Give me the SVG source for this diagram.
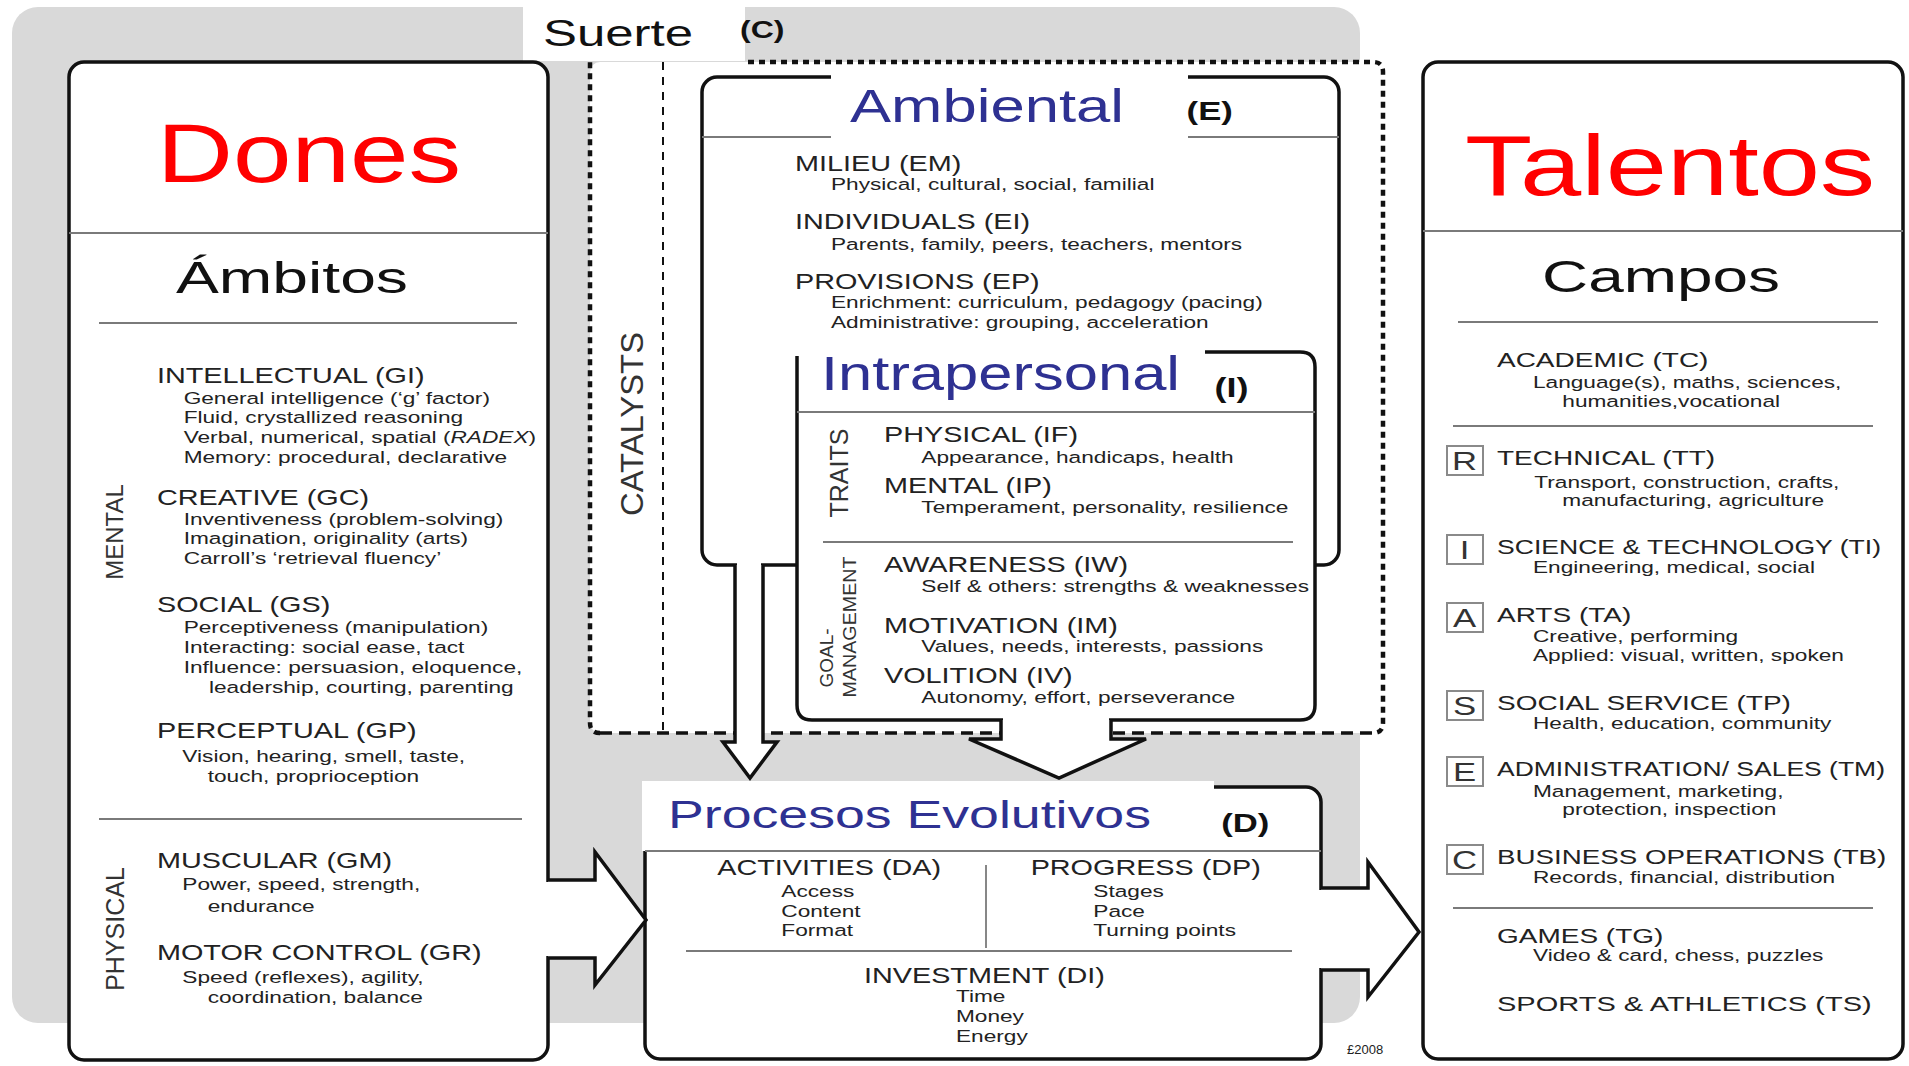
<svg xmlns="http://www.w3.org/2000/svg" width="1909" height="1066" viewBox="0 0 1909 1066">
<defs>
<style>
text{font-family:"Liberation Sans",Arial,Helvetica,sans-serif;fill:#222}
.box{fill:#fff;stroke:#111;stroke-width:3.5}
.sep{stroke:#7a7a7a;stroke-width:1.8;fill:none}
.h{font-size:21.6px}
.s{font-size:17px}
.th{font-size:21px}
.lbl{font-weight:bold;fill:#111}
.red{fill:#ff0000}
.blue{fill:#2e3192}
.big{fill:#111}
.rot{fill:#333;text-anchor:middle}
.arrow{fill:#fff;stroke:#111;stroke-width:3.5;stroke-linejoin:miter}
.cover{fill:#fff}
.dot{fill:none;stroke:#111;stroke-width:4.5;stroke-dasharray:6 5}
.dash{fill:none;stroke:#111;stroke-width:3.5;stroke-dasharray:12 7}
.thin{fill:none;stroke:#111;stroke-width:2;stroke-dasharray:8 7}
.rbox{fill:#fff;stroke:#8a8a8a;stroke-width:2}
.ltr{font-size:26px;text-anchor:middle;fill:#333}
</style>
</defs>
<rect width="1909" height="1066" fill="#fff"/>
<rect x="12" y="7" width="1348" height="1016" rx="26" fill="#d9d9d9"/>

<g id="catalysts">
<rect x="590" y="62" width="793" height="671" rx="10" fill="#fff"/>
<path class="dot" d="M600,733 Q590,733 590,723 V62"/>
<path class="dot" d="M748,62 H1373 Q1383,62 1383,72 V723 Q1383,733 1373,733"/>
<path class="dash" d="M600,733 H1373"/>
<path class="thin" d="M663,62 V733"/>
<text class="rot" font-size="31" textLength="184" lengthAdjust="spacingAndGlyphs" transform="translate(643,424) rotate(-90)">CATALYSTS</text>
</g>

<g id="suerte">
<rect x="523" y="0" width="222" height="61" fill="#fff"/>
<text class="big" x="543" y="46" font-size="37" textLength="150" lengthAdjust="spacingAndGlyphs">Suerte</text>
<g transform="scale(1.3333,1)"><text class="lbl" x="555" y="38" font-size="24">(C)</text></g>
</g>

<g id="dones">
<rect class="box" x="69" y="62" width="479" height="998" rx="15"/>
<line class="sep" x1="69" y1="233" x2="548" y2="233"/>
<line class="sep" x1="99" y1="323" x2="517" y2="323"/>
<line class="sep" x1="99" y1="819" x2="522" y2="819"/>
<text class="red" x="157" y="182" font-size="84" textLength="304" lengthAdjust="spacingAndGlyphs">Dones</text>
<text class="big" x="176" y="293" font-size="44" textLength="232" lengthAdjust="spacingAndGlyphs">Ámbitos</text>
<text class="rot" font-size="24" transform="translate(123,532) rotate(-90)">MENTAL</text>
<text class="rot" font-size="25" transform="translate(124,929) rotate(-90)">PHYSICAL</text>
<g transform="translate(157,0) scale(1.3333,1)">
<text class="h" x="0" y="383">INTELLECTUAL (GI)</text>
<text class="s" x="20" y="404">General intelligence (‘g’ factor)</text>
<text class="s" x="20" y="423">Fluid, crystallized reasoning</text>
<text class="s" x="20" y="443">Verbal, numerical, spatial (<tspan font-style="italic">RADEX</tspan>)</text>
<text class="s" x="20" y="463">Memory: procedural, declarative</text>
<text class="h" x="0" y="505">CREATIVE (GC)</text>
<text class="s" x="20" y="525">Inventiveness (problem-solving)</text>
<text class="s" x="20" y="544">Imagination, originality (arts)</text>
<text class="s" x="20" y="564">Carroll’s ‘retrieval fluency’</text>
<text class="h" x="0" y="612">SOCIAL (GS)</text>
<text class="s" x="20" y="633">Perceptiveness (manipulation)</text>
<text class="s" x="20" y="653">Interacting: social ease, tact</text>
<text class="s" x="20" y="673">Influence: persuasion, eloquence,</text>
<text class="s" x="39" y="693">leadership, courting, parenting</text>
<text class="h" x="0" y="738">PERCEPTUAL (GP)</text>
<text class="s" x="19" y="762">Vision, hearing, smell, taste,</text>
<text class="s" x="38" y="782">touch, proprioception</text>
<text class="h" x="0" y="868">MUSCULAR (GM)</text>
<text class="s" x="19" y="890">Power, speed, strength,</text>
<text class="s" x="38" y="912">endurance</text>
<text class="h" x="0" y="960">MOTOR CONTROL (GR)</text>
<text class="s" x="19" y="983">Speed (reflexes), agility,</text>
<text class="s" x="38" y="1003">coordination, balance</text>
</g>
</g>

<g id="ambiental">
<rect class="box" x="702" y="77" width="637" height="488" rx="15"/>
<line class="sep" x1="702" y1="137" x2="1339" y2="137"/>
<rect class="cover" x="831" y="70" width="357" height="70"/>
<text class="blue" x="850" y="122" font-size="47" textLength="274" lengthAdjust="spacingAndGlyphs">Ambiental</text>
<g transform="scale(1.3333,1)"><text class="lbl" x="890" y="120" font-size="26">(E)</text></g>
<g transform="translate(795,0) scale(1.3333,1)">
<text class="h" x="0" y="171">MILIEU (EM)</text>
<text class="s" x="27" y="190">Physical, cultural, social, familial</text>
<text class="h" x="0" y="229">INDIVIDUALS (EI)</text>
<text class="s" x="27" y="250">Parents, family, peers, teachers, mentors</text>
<text class="h" x="0" y="289">PROVISIONS (EP)</text>
<text class="s" x="27" y="308">Enrichment: curriculum, pedagogy (pacing)</text>
<text class="s" x="27" y="328">Administrative: grouping, acceleration</text>
</g>
</g>

<g id="intrapersonal">
<path class="box" d="M1205,352 H1300 Q1315,352 1315,367 V705 Q1315,720 1300,720 H812 Q797,720 797,705 V356"/>
<line class="sep" x1="797" y1="412" x2="1315" y2="412"/>
<line class="sep" x1="823" y1="542" x2="1293" y2="542"/>
<text class="blue" x="821" y="390" font-size="48" textLength="359" lengthAdjust="spacingAndGlyphs">Intrapersonal</text>
<g transform="scale(1.3333,1)"><text class="lbl" x="911" y="397" font-size="27">(I)</text></g>
<text class="rot" font-size="25" transform="translate(848,473) rotate(-90)">TRAITS</text>
<text class="rot" font-size="19" transform="translate(833,658) rotate(-90)">GOAL-</text>
<text class="rot" font-size="19" textLength="141" lengthAdjust="spacingAndGlyphs" transform="translate(856,627) rotate(-90)">MANAGEMENT</text>
<g transform="translate(884,0) scale(1.3333,1)">
<text class="h" x="0" y="442">PHYSICAL (IF)</text>
<text class="s" x="28" y="463">Appearance, handicaps, health</text>
<text class="h" x="0" y="493">MENTAL (IP)</text>
<text class="s" x="28" y="513">Temperament, personality, resilience</text>
<text class="h" x="0" y="572">AWARENESS (IW)</text>
<text class="s" x="28" y="592" font-size="16.5">Self &amp; others: strengths &amp; weaknesses</text>
<text class="h" x="0" y="633">MOTIVATION (IM)</text>
<text class="s" x="28" y="652">Values, needs, interests, passions</text>
<text class="h" x="0" y="683">VOLITION (IV)</text>
<text class="s" x="28" y="703">Autonomy, effort, perseverance</text>
</g>
</g>

<g id="procesos">
<rect class="box" x="645" y="787" width="676" height="272" rx="15"/>
<rect class="cover" x="642" y="781" width="572" height="70"/>
<line class="sep" x1="645" y1="851" x2="1321" y2="851"/>
<line class="sep" x1="986" y1="865" x2="986" y2="948"/>
<line class="sep" x1="686" y1="951" x2="1292" y2="951"/>
<text class="blue" x="668" y="828" font-size="38" textLength="483" lengthAdjust="spacingAndGlyphs">Procesos Evolutivos</text>
<g transform="scale(1.3333,1)">
<text class="lbl" x="916" y="832" font-size="26">(D)</text>
<text class="h" x="538" y="875">ACTIVITIES (DA)</text>
<text class="s" x="586" y="897">Access</text>
<text class="s" x="586" y="917">Content</text>
<text class="s" x="586" y="936">Format</text>
<text class="h" x="773" y="875">PROGRESS (DP)</text>
<text class="s" x="820" y="897">Stages</text>
<text class="s" x="820" y="917">Pace</text>
<text class="s" x="820" y="936">Turning points</text>
<text class="h" x="648" y="983">INVESTMENT (DI)</text>
<text class="s" x="717" y="1002">Time</text>
<text class="s" x="717" y="1022">Money</text>
<text class="s" x="717" y="1042">Energy</text>
</g>
</g>

<g id="talentos">
<rect class="box" x="1423" y="62" width="480" height="997" rx="15"/>
<line class="sep" x1="1423" y1="231" x2="1903" y2="231"/>
<line class="sep" x1="1458" y1="322" x2="1878" y2="322"/>
<line class="sep" x1="1453" y1="426" x2="1873" y2="426"/>
<line class="sep" x1="1453" y1="908" x2="1873" y2="908"/>
<text class="red" x="1465" y="195" font-size="86" textLength="410" lengthAdjust="spacingAndGlyphs">Talentos</text>
<text class="big" x="1542" y="292" font-size="44" textLength="238" lengthAdjust="spacingAndGlyphs">Campos</text>
<rect class="rbox" x="1447" y="446" width="36" height="29"/>
<rect class="rbox" x="1447" y="535" width="36" height="29"/>
<rect class="rbox" x="1447" y="603" width="36" height="29"/>
<rect class="rbox" x="1447" y="691" width="36" height="29"/>
<rect class="rbox" x="1447" y="757" width="36" height="29"/>
<rect class="rbox" x="1447" y="845" width="36" height="29"/>
<g transform="scale(1.3333,1)">
<text class="ltr" x="1098.5" y="470">R</text>
<text class="ltr" x="1098.5" y="559">I</text>
<text class="ltr" x="1098.5" y="627">A</text>
<text class="ltr" x="1098.5" y="715">S</text>
<text class="ltr" x="1098.5" y="781">E</text>
<text class="ltr" x="1098.5" y="869">C</text>
</g>
<g transform="translate(1497,0) scale(1.3333,1)">
<text class="th" x="0" y="367">ACADEMIC (TC)</text>
<text class="s" x="27" y="388">Language(s), maths, sciences,</text>
<text class="s" x="49" y="407">humanities,vocational</text>
<text class="th" x="0" y="465">TECHNICAL (TT)</text>
<text class="s" x="28" y="488">Transport, construction, crafts,</text>
<text class="s" x="49" y="506">manufacturing, agriculture</text>
<text class="th" x="0" y="554" textLength="288" lengthAdjust="spacingAndGlyphs">SCIENCE &amp; TECHNOLOGY (TI)</text>
<text class="s" x="27" y="573">Engineering, medical, social</text>
<text class="th" x="0" y="622">ARTS (TA)</text>
<text class="s" x="27" y="642">Creative, performing</text>
<text class="s" x="27" y="661">Applied: visual, written, spoken</text>
<text class="th" x="0" y="710">SOCIAL SERVICE (TP)</text>
<text class="s" x="27" y="729">Health, education, community</text>
<text class="th" x="0" y="776" textLength="291" lengthAdjust="spacingAndGlyphs">ADMINISTRATION/ SALES (TM)</text>
<text class="s" x="27" y="797">Management, marketing,</text>
<text class="s" x="49" y="815">protection, inspection</text>
<text class="th" x="0" y="864" textLength="292" lengthAdjust="spacingAndGlyphs">BUSINESS OPERATIONS (TB)</text>
<text class="s" x="27" y="883">Records, financial, distribution</text>
<text class="th" x="0" y="943">GAMES (TG)</text>
<text class="s" x="27" y="961">Video &amp; card, chess, puzzles</text>
<text class="th" x="0" y="1011" textLength="281" lengthAdjust="spacingAndGlyphs">SPORTS &amp; ATHLETICS (TS)</text>
</g>
</g>

<g id="connectors">
<rect class="cover" x="545" y="882" width="7" height="74"/>
<path class="arrow" d="M548,880 H595 V852 L646,920 L595,985 V958 H548"/>
<rect class="cover" x="737" y="561" width="24" height="8"/>
<path class="arrow" d="M735,565 V742 H723 L750,778 L777,742 H763 V565"/>
<rect class="cover" x="1003" y="716" width="106" height="8"/>
<path class="arrow" d="M1001,720 V739 H969 L1059,778 L1146,739 H1111 V720"/>
<rect class="cover" x="1318" y="890" width="7" height="78"/>
<path class="arrow" d="M1321,888 H1368 V862 L1419,932 L1368,997 V970 H1321"/>
</g>

<text x="1347" y="1054" font-size="13" fill="#666">£2008</text>
</svg>
